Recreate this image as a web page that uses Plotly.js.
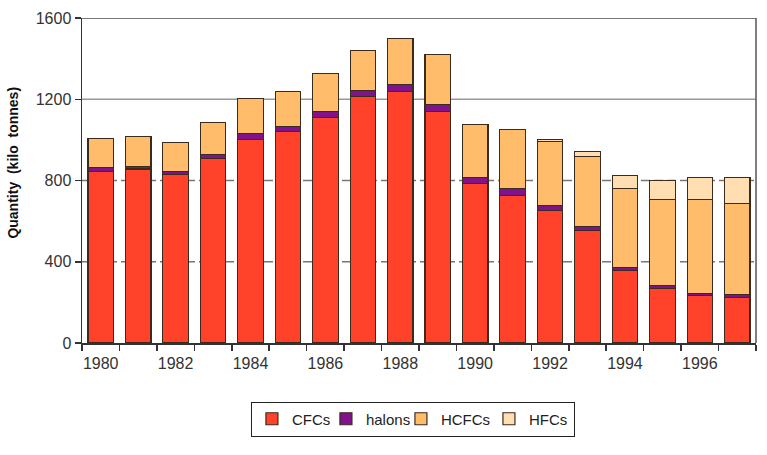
<!DOCTYPE html>
<html>
<head>
<meta charset="utf-8">
<script src="https://cdn.plot.ly/plotly-3.0.1.min.js"></script>
<style>html,body{margin:0;padding:0;background:#fff;}#chart{width:767px;height:455px;}</style>
</head>
<body>
<div id="chart"></div>
<script>
const years = ['1980','1981','1982','1983','1984','1985','1986','1987','1988','1989','1990','1991','1992','1993','1994','1995','1996','1997'];
const cfcs   = [843,857,830,907,1002,1040,1111,1214,1239,1140,785,726,652,554,357,268,233,224];
const halons = [21,12,15,21,30,26,29,30,32,33,28,33,25,20,14,15,12,14];
const hcfcs  = [143,148,142,158,172,173,188,195,227,248,261,293,315,346,390,424,462,449];
const hfcs   = [0,0,0,0,0,0,0,0,0,0,0,0,10,23,64,93,108,128];
const yTicks = [0,400,800,1200,1600];
const xTickLabels = ['1980','1982','1984','1986','1988','1990','1992','1994','1996'];
const yTitle = 'Quantity\u00a0\u00a0(kilo\u00a0\u00a0tonnes)';

const FONT = '"Liberation Sans", Arial, sans-serif';
const outline = {color:'#3b2a1e', width:1.2};
function tr(name, vals, color, lw){
  return {type:'bar', name:name, x:years, y:vals, width:0.68, legendwidth:lw,
    marker:{color:color, line:outline}, hoverinfo:'x+y+name'};
}
const data = [
  tr('CFCs', cfcs, '#ff4229', 29),
  tr('halons', halons, '#80128b', 30),
  tr('HCFCs', hcfcs, '#ffbd6b', 43),
  tr('HFCs', hfcs, '#ffdeb2', 40)
];
// one tick per year (drawn on the category boundaries), label only every other year
const tickText = years.map(y => xTickLabels.includes(y) ? y : '');

// horizontal reference lines: solid at 1200/1600, dashed at 400/800
const gridShapes = yTicks.filter(v => v > 0).map(v => ({
  type:'line', xref:'paper', x0:0, x1:1, yref:'y', y0:v, y1:v, layer:'below',
  line: v === 1200 ? {color:'#999', width:1.6}
      : v === 1600 ? {color:'#777', width:2}
      : {color:'#777', width:1.7, dash:'9px,4px'}
}));

const layout = {
  width:767, height:455,
  margin:{l:82, r:11, t:18, b:112},
  barmode:'stack',
  paper_bgcolor:'#fff', plot_bgcolor:'#fff',
  font:{family:FONT, color:'#333', size:16},
  showlegend:true,
  legend:{orientation:'h', x:0.491, xanchor:'center', y:-0.18, yanchor:'top',
    bordercolor:'#222', borderwidth:1, traceorder:'normal', entrywidthmode:'pixels',
    font:{family:FONT, size:15, color:'#222'}, itemwidth:30},
  xaxis:{type:'category', tickmode:'array', tickvals:years, ticktext:tickText, tickson:'boundaries',
    tickangle:0, ticks:'outside', ticklen:6, tickcolor:'#333', tickwidth:1.5, ticklabelstandoff:5,
    showgrid:false, zeroline:false, showline:true, linecolor:'#333', linewidth:1.5,
    tickfont:{family:FONT, size:16, color:'#333'}},
  yaxis:{range:[0,1600], tickvals:yTicks, ticks:'outside', ticklen:6, tickcolor:'#333', tickwidth:1.5,
    showline:true, linecolor:'#333', linewidth:1.5, zeroline:false, showgrid:false,
    tickfont:{family:FONT, size:16, color:'#333'}},
  annotations:[
    {text:yTitle, xref:'paper', yref:'paper', x:-0.1024, y:0.555, xanchor:'center', yanchor:'middle',
     textangle:-90, showarrow:false, font:{family:FONT, size:14, color:'#111', weight:'bold'}}
  ],
  shapes: gridShapes.concat([
    {type:'line', xref:'paper', x0:1, x1:1, yref:'paper', y0:0, y1:1, line:{color:'#555', width:1.5}}
  ])
};
Plotly.newPlot('chart', data, layout, {displayModeBar:false, staticPlot:true});
</script>
</body>
</html>
